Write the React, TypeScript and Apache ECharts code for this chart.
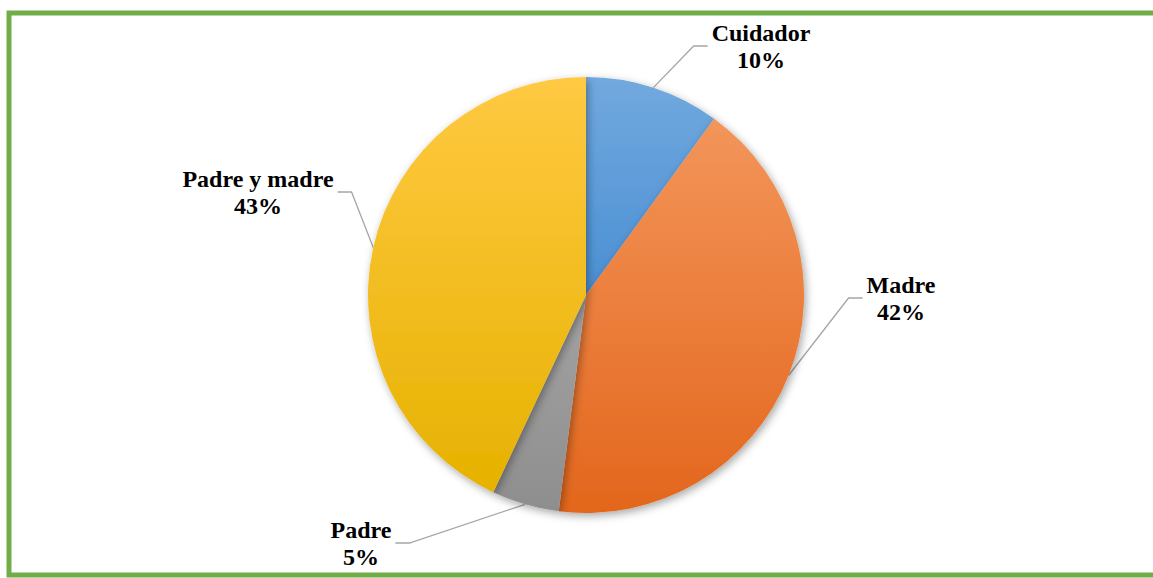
import React, { useEffect, useRef } from "react";
import * as echarts from "echarts";

const categories = ["Cuidador", "Madre", "Padre", "Padre y madre"];
const values = [10, 42, 5, 43];
const topColors = ["#72A9DE", "#F3955A", "#A3A3A3", "#FFC942"];
const bottomColors = ["#4A8FD4", "#E3661C", "#8E8E8E", "#E6B200"];
// label centre positions (layout only)
const labelPos: [number, number][] = [
  [761, 46],
  [901, 298],
  [361, 543],
  [258, 192],
];

export default function App() {
  const ref = useRef<HTMLDivElement>(null);
  useEffect(() => {
    if (!ref.current) return;
    const chart = echarts.init(ref.current, null, { renderer: "svg" });
    const data = categories.map((name, i) => ({
      name,
      value: values[i],
      itemStyle: {
        color: new echarts.graphic.LinearGradient(0, 0, 0, 1, [
          { offset: 0, color: topColors[i] },
          { offset: 1, color: bottomColors[i] },
        ]),
      },
    }));
    chart.setOption({
      animation: false,
      backgroundColor: "#ffffff",
      graphic: [
        {
          type: "rect",
          shape: { x: 9, y: 13, width: 1170, height: 562 },
          style: { fill: "none", stroke: "#70AD47", lineWidth: 5 },
          z: 10,
        },
      ],
      series: [
        {
          type: "pie",
          center: [586, 295],
          radius: 218,
          startAngle: 90,
          clockwise: true,
          data,
          itemStyle: {
            borderWidth: 0,
            shadowBlur: 8,
            shadowOffsetX: 2,
            shadowOffsetY: 3,
            shadowColor: "rgba(0,0,0,0.35)",
          },
          label: {
            show: true,
            position: "outside",
            formatter: (p: any) => `${p.name}\n${p.value}%`,
            fontFamily: "Liberation Serif",
            fontWeight: "bold",
            fontSize: 24,
            lineHeight: 27,
            color: "#000000",
            align: "center",
            padding: [0, 4],
          },
          labelLine: {
            show: true,
            length: 20,
            length2: 14,
            lineStyle: { color: "#A6A6A6", width: 1.3 },
          },
          labelLayout: (params: any) => {
            const pos = labelPos[params.dataIndex];
            return {
              x: pos[0],
              y: pos[1],
              align: "center",
              verticalAlign: "middle",
            };
          },
        },
      ],
    });
    return () => chart.dispose();
  }, []);
  return (
    <div
      ref={ref}
      style={{ position: "fixed", left: 0, top: 0, width: 1153, height: 578 }}
    />
  );
}
